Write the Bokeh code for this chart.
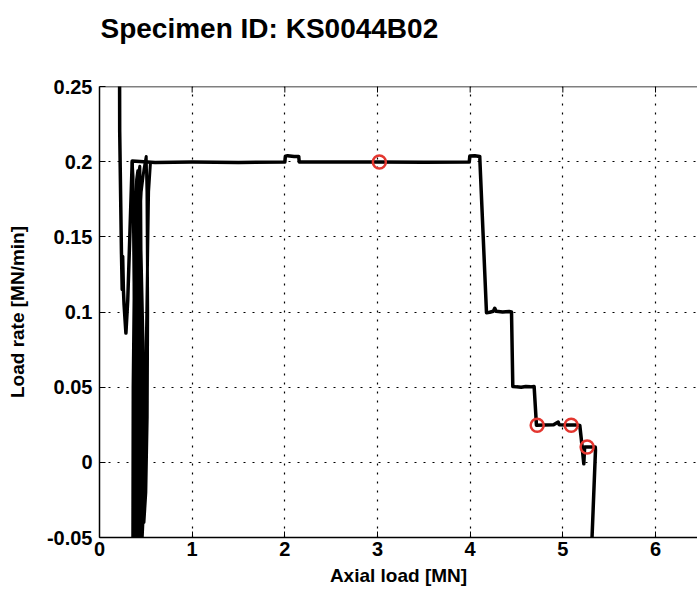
from bokeh.plotting import figure
from bokeh.models import Range1d, FixedTicker, Span, Title
from bokeh.embed import file_html
from bokeh.resources import INLINE

# main trace: load [MN] vs load rate [MN/min]
load_mn = [0.215, 0.218, 0.237, 0.245, 0.250, 0.258, 0.265, 0.285, 0.305, 0.353,
           0.60, 1.00, 1.50, 2.000, 2.006, 2.03, 2.10, 2.150, 2.155, 2.50, 3.00, 3.50,
           3.990, 3.996, 4.05, 4.103, 4.176, 4.21, 4.25, 4.265, 4.28, 4.35, 4.42, 4.446,
           4.460, 4.50, 4.55, 4.60, 4.65, 4.690, 4.715, 4.80, 4.90, 4.95, 4.96, 5.05,
           5.15, 5.183, 5.200, 5.226, 5.235, 5.30, 5.350, 5.352, 5.315, 5.310]
rate_mn_min = [0.300, 0.220, 0.139, 0.115, 0.137, 0.115, 0.105, 0.086, 0.108, 0.2005,
               0.1995, 0.1998, 0.1995, 0.1998, 0.2037, 0.2040, 0.2035, 0.2035, 0.1998, 0.1997, 0.1998, 0.1996,
               0.1998, 0.2037, 0.2040, 0.2035, 0.0995, 0.0998, 0.1005, 0.1025, 0.1005, 0.1000, 0.1003, 0.1000,
               0.0505, 0.0502, 0.0500, 0.0505, 0.0502, 0.0505, 0.0247, 0.0248, 0.0250, 0.0268, 0.0250, 0.0248,
               0.0248, 0.0245, 0.0150, -0.001, 0.0102, 0.0102, 0.0102, 0.0080, -0.050, -0.060]

# start-up oscillations of the load controller
osc_load = [0.353, 0.362, 0.372, 0.378, 0.380, 0.370, 0.358, 0.362, 0.380, 0.400, 0.413,
            0.422, 0.430, 0.433, 0.432, 0.400, 0.365, 0.372, 0.390, 0.415, 0.435,
            0.445, 0.452, 0.455, 0.453, 0.420, 0.390, 0.400, 0.420, 0.440, 0.460, 0.465, 0.450,
            0.400, 0.370, 0.378, 0.392, 0.405, 0.418, 0.425, 0.428, 0.410, 0.382, 0.388, 0.400,
            0.430, 0.445, 0.470, 0.478, 0.476, 0.440, 0.395, 0.405, 0.420, 0.438, 0.445, 0.442,
            0.400, 0.375, 0.385, 0.410, 0.450, 0.480, 0.504, 0.512, 0.520, 0.515, 0.500,
            0.480, 0.490, 0.510, 0.530, 0.550]
osc_rate = [0.200, 0.190, 0.120, 0.000, -0.070, -0.080, -0.070, 0.050, 0.150, 0.188, 0.194,
            0.175, 0.100, 0.000, -0.070, -0.080, -0.070, 0.050, 0.150, 0.190, 0.197,
            0.175, 0.100, 0.000, -0.070, -0.080, -0.070, 0.050, 0.120, 0.140, 0.100, 0.000, -0.070,
            -0.080, -0.070, 0.020, 0.090, 0.120, 0.110, 0.060, 0.000, -0.080, -0.070, 0.030, 0.120,
            0.170, 0.150, 0.080, 0.020, -0.030, -0.080, -0.070, 0.040, 0.100, 0.090, 0.030, -0.070,
            -0.080, -0.070, 0.050, 0.130, 0.180, 0.195, 0.2035, 0.180, 0.100, 0.030, -0.020,
            -0.040, 0.020, 0.100, 0.180, 0.1995]

# marked points
mark_load = [3.02, 4.723, 5.09, 5.262]
mark_rate = [0.1998, 0.0247, 0.0247, 0.0102]

load_ticks = [0, 1, 2, 3, 4, 5, 6]
rate_ticks = [-0.05, 0.0, 0.05, 0.1, 0.15, 0.2, 0.25]
rate_tick_labels = ["-0.05", "0", "0.05", "0.1", "0.15", "0.2", "0.25"]

FONT = "Liberation Sans"

p = figure(width=697, height=592, output_backend="svg", toolbar_location=None, title=None,
           x_range=Range1d(0, 6.453), y_range=Range1d(-0.05, 0.25),
           min_border_left=99, min_border_right=0, min_border_top=86, min_border_bottom=55,
           background_fill_color="white", border_fill_color="white")
p.outline_line_color = None

# spacer between frame and title (nearest the frame), then the title itself
p.add_layout(Title(text=" ", text_font=FONT, text_font_size="37px", standoff=0,
                   text_color="white"), "above")
p.add_layout(Title(text="Specimen ID: KS0044B02", text_font=FONT, text_font_size="28px",
                   text_font_style="bold", text_color="black", align="left", offset=1,
                   standoff=0), "above")

for ax in (p.xaxis[0], p.yaxis[0]):
    ax.major_label_text_font = FONT
    ax.major_label_text_font_size = "20px"
    ax.major_label_text_font_style = "bold"
    ax.major_label_text_color = "black"
    ax.axis_label_text_font = FONT
    ax.axis_label_text_font_size = "19px"
    ax.axis_label_text_font_style = "bold"
    ax.axis_label_text_color = "black"
    ax.axis_line_color = "black"
    ax.axis_line_width = 1.5
    ax.major_tick_line_color = "black"
    ax.major_tick_in = 6
    ax.major_tick_out = 0
    ax.minor_tick_line_color = None

p.xaxis.axis_label = "Axial load [MN]"
p.xaxis.ticker = FixedTicker(ticks=load_ticks)
p.xaxis.major_label_standoff = 4
p.xaxis.axis_label_standoff = 6

p.yaxis.axis_label = "Load rate [MN/min]"
p.yaxis.ticker = FixedTicker(ticks=rate_ticks)
p.yaxis.major_label_overrides = {t: s for t, s in zip(rate_ticks, rate_tick_labels)}
p.yaxis.major_label_standoff = 7
p.yaxis.axis_label_standoff = 16

p.xgrid.ticker = FixedTicker(ticks=load_ticks)
p.ygrid.ticker = FixedTicker(ticks=rate_ticks)
for g in (p.xgrid[0], p.ygrid[0]):
    g.grid_line_color = "black"
    g.grid_line_dash = "2 7"
    g.grid_line_width = 1.2

# top border with inward ticks
p.add_layout(Span(location=rate_ticks[-1], dimension="width", line_color="black", line_width=1.5))
p.segment(x0=load_ticks, y0=[rate_ticks[-1]] * len(load_ticks),
          x1=load_ticks, y1=[rate_ticks[-1] - 0.004] * len(load_ticks),
          line_color="black", line_width=1)

p.line(osc_load, osc_rate, line_color="black", line_width=3, line_join="round")
p.line(load_mn, rate_mn_min, line_color="black", line_width=3.5, line_join="round")

p.scatter(mark_load, mark_rate, marker="circle", size=13, fill_color=None,
          line_color="#e3362f", line_width=2.5)

open("out.html", "w").write(file_html(p, INLINE))
